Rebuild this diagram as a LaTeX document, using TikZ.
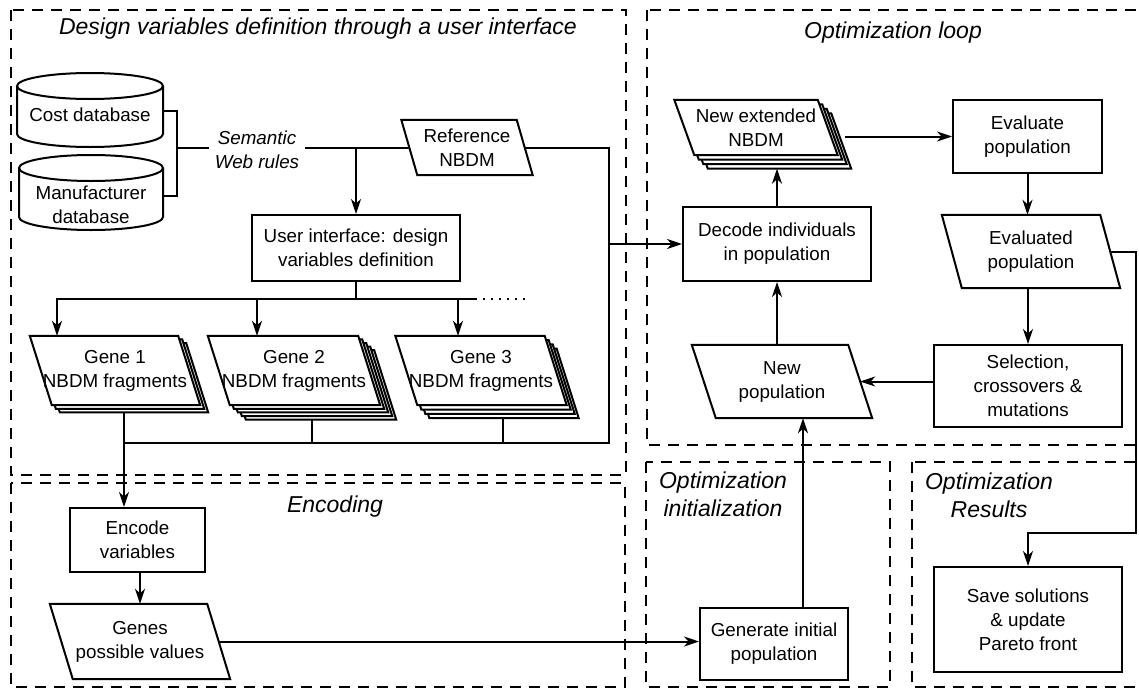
\documentclass[tikz,border=0pt]{standalone}
\usepackage{fontspec}
\setmainfont{Liberation Sans}
\usetikzlibrary{arrows.meta,calc,backgrounds}
\newcommand\parashape[4]{%
  \draw[ln, fill=white] ($(#1.north west)+(-#2+#3,#4)$) -- ($(#1.north east)+(-#2+#3,#4)$) -- ($(#1.south east)+(#2+#3,#4)$) -- ($(#1.south west)+(#2+#3,#4)$) -- cycle;}
\newcommand\cylshape[5]{%
  \draw[ln, fill=white] (#1-#4,#2) -- (#1-#4,#3) arc[start angle=180,end angle=0,x radius=#4,y radius=#5] -- (#1+#4,#2);
  \draw[ln] (#1,#2) ellipse[x radius=#4, y radius=#5];}
\begin{document}
\begin{tikzpicture}[x=1pt,y=-1pt,
  every node/.style={font=\fontsize{18.8}{24}\selectfont, align=center},
  ln/.style={line width=2pt},
  arr/.style={line width=2pt,-{Stealth[length=15pt,width=10pt,inset=4.5pt]}},
  frame/.style={line width=2pt, dash pattern=on 11pt off 8pt},
  ttl/.style={font=\fontsize{23}{28}\selectfont\itshape},
  box/.style={draw, line width=2pt, inner sep=3pt},
  para/.style={draw=none, inner sep=1pt},
  body/.style={draw=none, inner sep=0pt}]
\useasboundingbox (0,0) rectangle (1139,688);

% frames
\draw[frame] (11,10) rectangle (626,475);
\draw[frame] (647,10) rectangle (1150,445);
\draw[frame] (11,483) rectangle (625,687);
\draw[frame] (646,462) rectangle (890,687);
\draw[frame] (912,462) rectangle (1150,687);

% titles
\node[ttl] (t1) at (318,29) {Design variables definition through a user interface};
\node[ttl] (t2) at (893,33) {Optimization loop};
\node[ttl] (t3) at (335,507) {Encoding};
\node[ttl] (t4) at (723,494) {Optimization\\initialization};
\node[ttl] (t5) at (989,495) {Optimization\\Results};

% databases
\cylshape{90}{86}{134}{73}{13}
\cylshape{91}{168}{217}{72}{13}
\node[body, minimum width=146, minimum height=48] (cost) at (90,111) {};
\node (costtxt) at (90,115) {Cost database};
\node[body, minimum width=144, minimum height=49] (manu) at (91,196) {};
\node (manutxt) at (91,205) {Manufacturer\\database};
\node[font=\fontsize{18.8}{24}\selectfont\itshape, inner xsep=6pt] (sem) at (257,150) {Semantic\\Web rules};

% nodes
\node[para, minimum width=115, minimum height=55] (ref) at (467,147.5) {Reference\\NBDM};
\node[box, minimum width=208, minimum height=66] (ui) at (356,248) {User interface: design\\variables definition};
\node[para, minimum width=148, minimum height=69] (g1) at (115,370.5) {Gene 1\\NBDM fragments};
\node[para, minimum width=150, minimum height=69] (g2) at (294,370.5) {Gene 2\\NBDM fragments};
\node[para, minimum width=149, minimum height=69] (g3) at (481,370.5) {Gene 3\\NBDM fragments};
\node[box, minimum width=135, minimum height=64] (enc) at (137.5,540) {Encode\\variables};
\node[para, minimum width=157, minimum height=75] (genes) at (140,641.5) {Genes\\possible values};
\node[box, minimum width=188, minimum height=74] (dec) at (777,244) {Decode individuals\\in population};
\node[para, minimum width=143, minimum height=55] (nb) at (756,127.5) {New extended\\NBDM};
\node[box, minimum width=149, minimum height=73] (eval) at (1027.5,136.5) {Evaluate\\population};
\node[para, minimum width=158, minimum height=73] (evald) at (1031,251.5) {Evaluated\\population};
\node[box, minimum width=188, minimum height=82] (sel) at (1028,386) {Selection,\\crossovers \&\\mutations};
\node[para, minimum width=156, minimum height=73] (np) at (782,381.5) {New\\population};
\node[box, minimum width=148, minimum height=72] (gen) at (774,644) {Generate initial\\population};
\node[box, minimum width=188, minimum height=105] (save) at (1028,619.5) {Save solutions\\\& update\\Pareto front};

% parallelogram shapes
\begin{scope}[on background layer]
  \parashape{ref}{8}{0}{0}
  \foreach \k in {3,2,1} {\parashape{nb}{10}{\k*4.5}{\k*4.5}}
  \parashape{nb}{10}{0}{0}
  \foreach \k in {2,1} {\parashape{g1}{11}{\k*4}{\k*3.6}}
  \parashape{g1}{11}{0}{0}
  \foreach \k in {4,3,2,1} {\parashape{g2}{11}{\k*4}{\k*3.6}}
  \parashape{g2}{11}{0}{0}
  \foreach \k in {3,2,1} {\parashape{g3}{11}{\k*4}{\k*4.3}}
  \parashape{g3}{11}{0}{0}
  \parashape{genes}{11.5}{0}{0}
  \parashape{evald}{10}{0}{0}
  \parashape{np}{12}{0}{0}
\end{scope}

% coordinates
\coordinate (br) at (177,148);
\coordinate (hL) at (57,299);
\coordinate (hM) at (257,299);
\coordinate (hR) at (458,299);
\coordinate (hE) at (475,299);
\coordinate (hD) at (528,299);
\coordinate (bus) at (609,443);
\coordinate (j1) at (124,443);
\coordinate (j2) at (312,443);
\coordinate (j3) at (503,443);
\coordinate (nbb) at ($(nb.south)+(0,13.5)$);
\coordinate (nbr) at ($(nb.east)+(17,0)$);
\coordinate (ga) at ($(gen.north)+(29,0)$);
\coordinate (r1) at (1136,533);

% connectors
\draw[ln] (cost.east) -| (br) |- (manu.east);
\draw[ln] (br) -- (br -| sem.west);
\draw[ln] (sem.east |- ref.west) -- (ref.west);
\draw[arr] (ui.north |- ref.west) -- (ui.north);
\draw[ln] (ui.south) -- (ui.south |- hL);
\draw[arr] (hE) -- (hL) -- (hL |- g1.north);
\draw[arr] (hM) -- (hM |- g2.north);
\draw[arr] (hR) -- (hR |- g3.north);
\draw[ln, dash pattern=on 2pt off 6pt] (hE) -- (hD);
\draw[ln] (ref.east) -| (bus) -- (j1);
\draw[ln] ($(j1 |- g1.south)+(0,7)$) -- (j1);
\draw[ln] ($(j2 |- g2.south)+(0,14)$) -- (j2);
\draw[ln] ($(j3 |- g3.south)+(0,13)$) -- (j3);
\draw[arr] (j1) -- (j1 |- enc.north);
\draw[arr] (enc.south -| genes.north) -- (genes.north);
\draw[arr] (bus |- dec.west) -- (dec.west);
\draw[arr] (dec.north) -- (dec.north |- nbb);
\draw[arr] (nbr |- eval.west) -- (eval.west);
\draw[arr] (eval.south) -- (eval.south |- evald.north);
\draw[arr] (sel.north |- evald.south) -- (sel.north);
\draw[arr] (np.east -| sel.west) -- (np.east);
\draw[arr] (dec.south |- np.north) -- (dec.south);
\draw[arr] (ga) -- (ga |- np.south);
\draw[arr] (genes.east) -- (genes.east -| gen.west);
\draw[arr] (evald.east) -| (r1) -| (save.north);
\end{tikzpicture}
\end{document}
